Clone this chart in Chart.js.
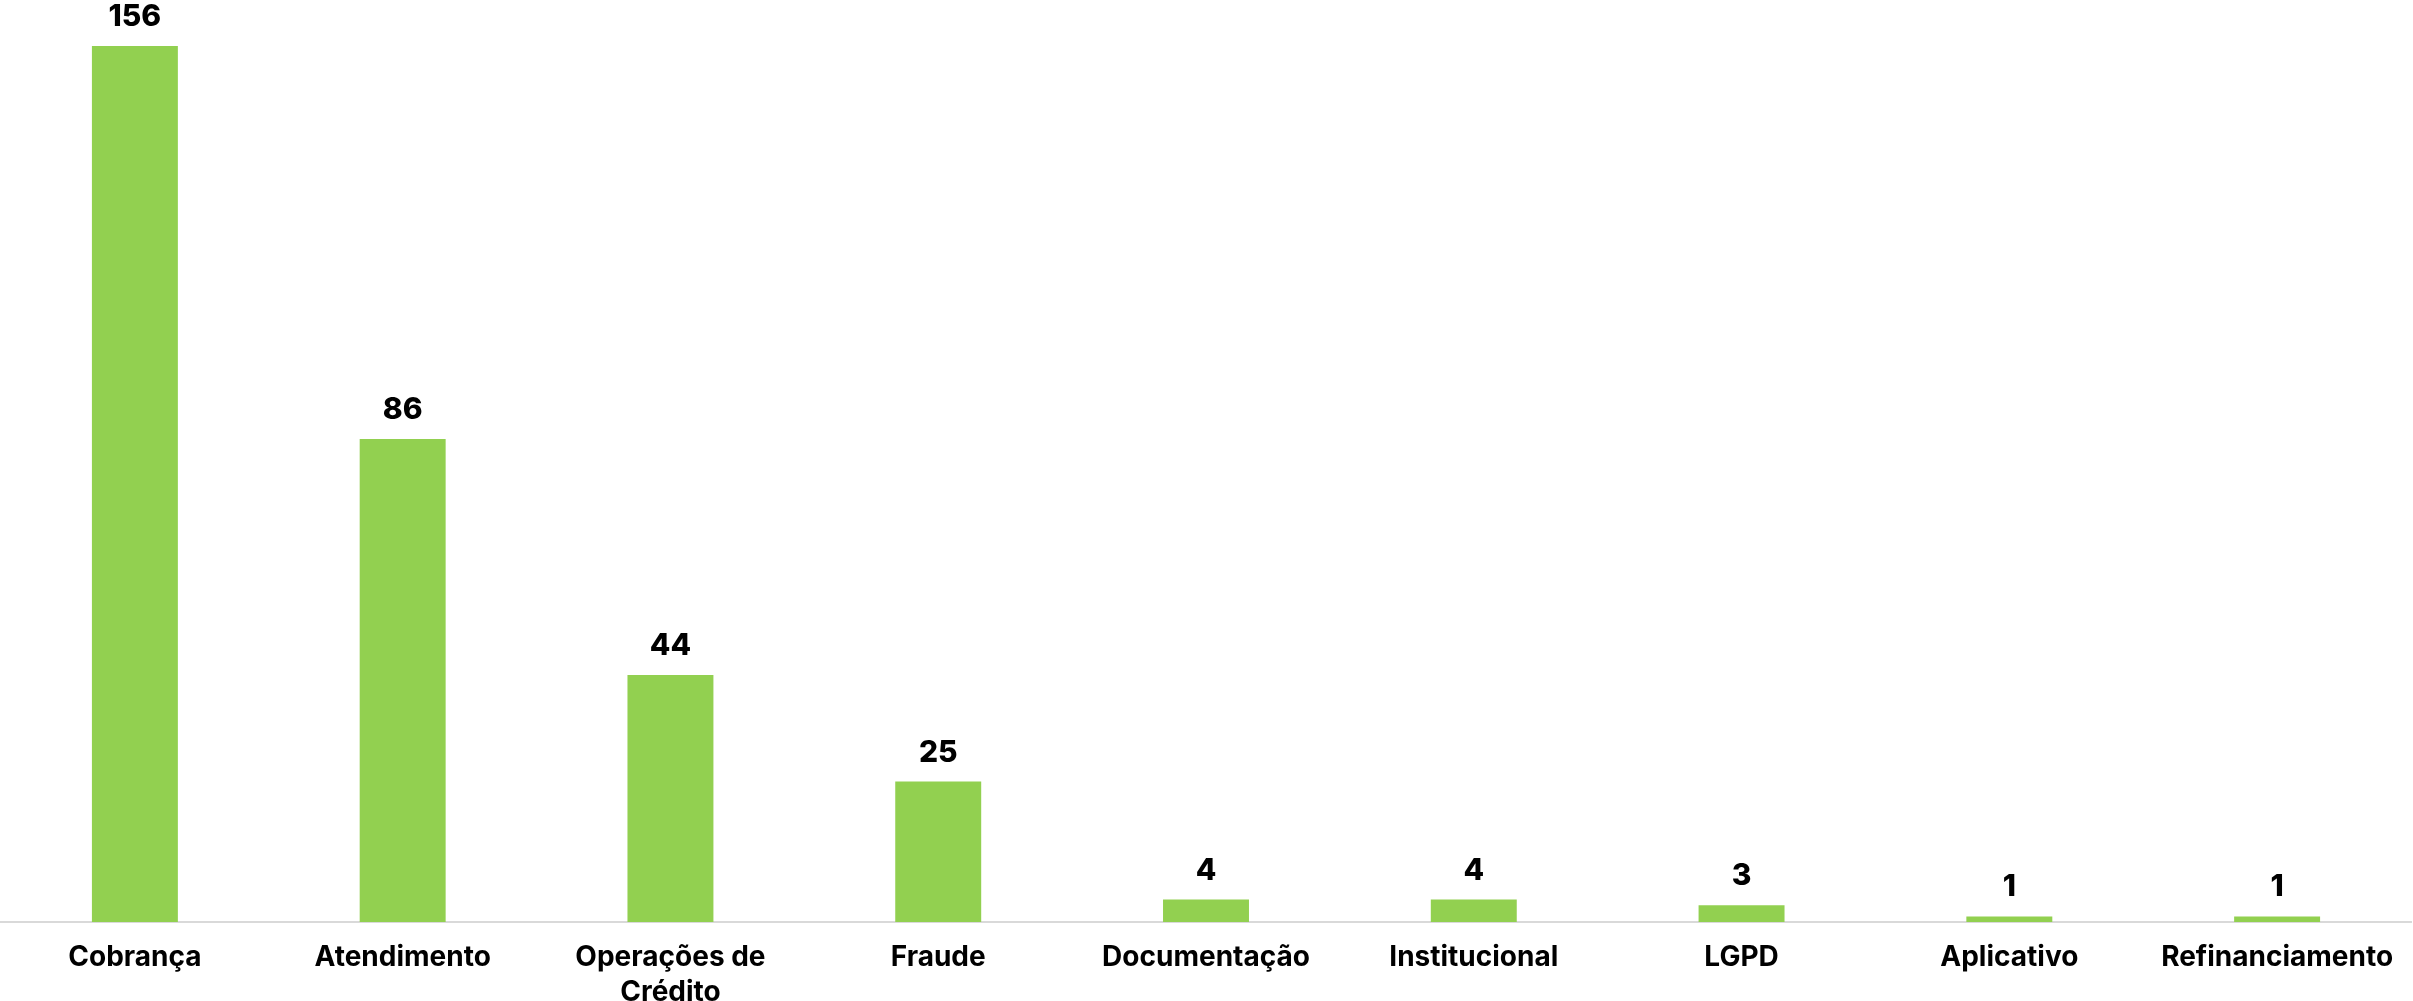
<!DOCTYPE html>
<html>
<head>
<meta charset="utf-8">
<script src="https://cdn.jsdelivr.net/npm/chart.js@4.4.0/dist/chart.umd.min.js"></script>
<style>
  html, body { margin: 0; padding: 0; background: #fff; }
  #wrap { width: 2413px; height: 1001px; position: relative; }
</style>
</head>
<body>
<div id="wrap"><canvas id="chart"></canvas></div>
<script>
// categorias e valores
const categorias = ['Cobrança', 'Atendimento', ['Operações de', 'Crédito'], 'Fraude',
  'Documentação', 'Institucional', 'LGPD', 'Aplicativo', 'Refinanciamento'];
const valores = [156, 86, 44, 25, 4, 4, 3, 1, 1];

const FONT = "Inter, 'Noto Sans', sans-serif";

// desenha o valor em cima de cada barra
const valorPlugin = {
  id: 'valorPlugin',
  afterDatasetsDraw(chart) {
    const ctx = chart.ctx;
    const meta = chart.getDatasetMeta(0);
    ctx.save();
    ctx.font = '800 30px ' + FONT;
    ctx.fillStyle = '#000';
    ctx.textAlign = 'center';
    ctx.textBaseline = 'alphabetic';
    meta.data.forEach((bar, i) => {
      ctx.fillText(String(valores[i]), bar.x, bar.y - 20);
    });
    ctx.restore();
  }
};

new Chart(document.getElementById('chart').getContext('2d'), {
  type: 'bar',
  data: {
    labels: categorias,
    datasets: [{
      data: valores,
      backgroundColor: '#92D050',
      categoryPercentage: 1,
      barPercentage: 0.321,
    }],
  },
  options: {
    responsive: true,
    maintainAspectRatio: false,
    animation: false,
    layout: { padding: { top: 46, left: 1, right: 2, bottom: 0 } },
    plugins: {
      legend: { display: false },
      tooltip: { enabled: false },
    },
    scales: {
      x: {
        grid: { display: false },
        border: { display: true, color: '#D9D9D9', width: 2 },
        ticks: {
          color: '#000',
          padding: 10,
          maxRotation: 0,
          autoSkip: false,
          font: { family: FONT, size: 28, weight: '700', lineHeight: 1.25 },
        },
        afterFit: (scale) => { scale.height = 79; },
      },
      y: {
        display: false,
        beginAtZero: true,
        max: 156,
      },
    },
  },
  plugins: [valorPlugin],
});
</script>
</body>
</html>
